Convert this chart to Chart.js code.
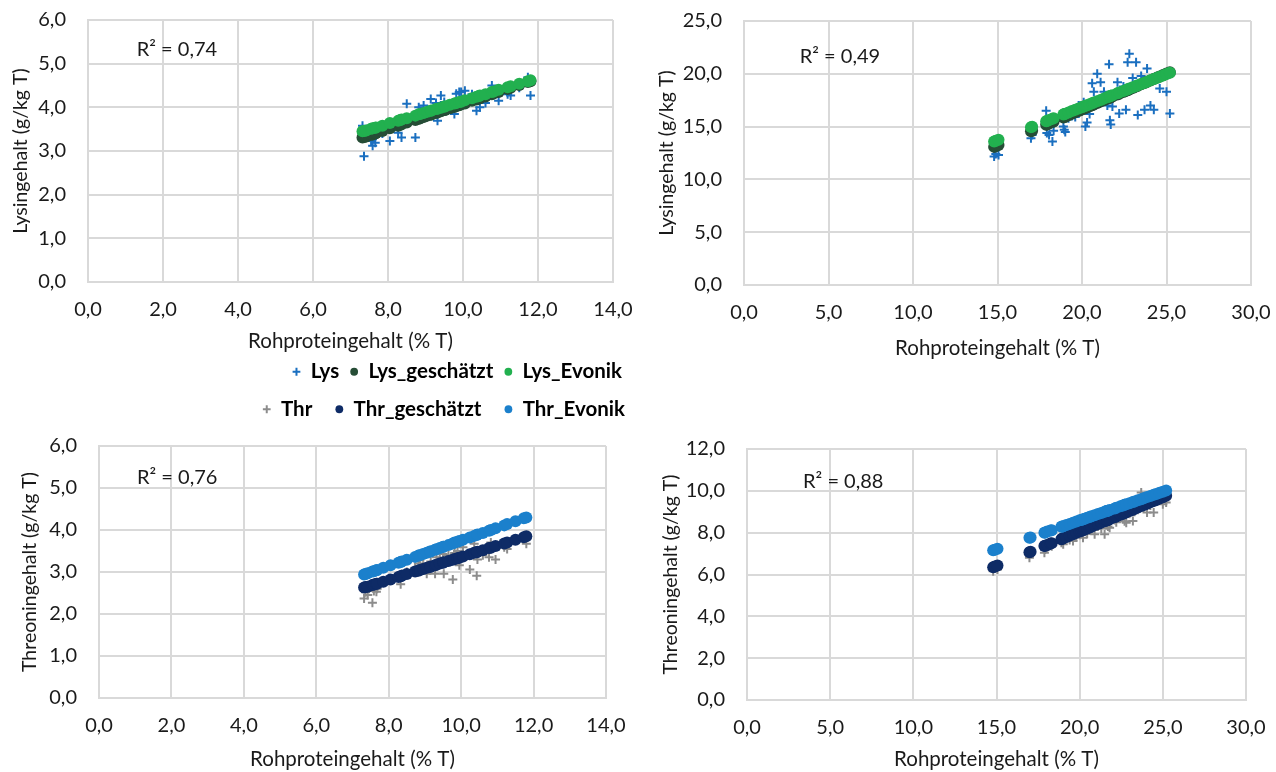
<!DOCTYPE html>
<html lang="de">
<head>
<meta charset="utf-8">
<title>Lysin- und Threoningehalt</title>
<script src="https://cdn.jsdelivr.net/npm/chart.js@4.4.1/dist/chart.umd.min.js"></script>
<style>
  body { margin: 0; background: #fff; width: 1276px; height: 772px; overflow: hidden; position: relative; }
  canvas { position: absolute; }
</style>
</head>
<body>
<canvas id="lysLowChart" width="633" height="392" style="left:0;top:0"></canvas>
<canvas id="lysHighChart" width="640" height="392" style="left:636px;top:0"></canvas>
<canvas id="thrLowChart" width="648" height="396" style="left:0;top:376px"></canvas>
<canvas id="thrHighChart" width="640" height="392" style="left:636px;top:380px"></canvas>
<script>
// Rohproteingehalt (% T), erster Probensatz
const rpLow = [7.32, 7.36, 7.42, 7.55, 7.59, 7.66, 7.68, 7.85, 8.05, 8.27, 8.33, 8.36, 8.50, 8.73, 8.82, 8.86, 8.95, 9.05, 9.14, 9.16, 9.28, 9.32, 9.41, 9.50, 9.52, 9.65, 9.77, 9.82, 9.90, 9.95, 10.05, 10.24, 10.36, 10.43, 10.45, 10.60, 10.77, 10.82, 10.95, 11.19, 11.27, 11.50, 11.73, 11.80];
const lysLow = [3.58, 2.88, 3.45, 3.23, 3.12, 3.19, 3.35, 3.40, 3.23, 3.42, 3.60, 3.31, 4.08, 3.31, 4.00, 3.80, 4.04, 3.85, 4.19, 3.81, 4.10, 3.69, 4.27, 4.12, 3.95, 4.05, 3.85, 4.31, 4.35, 4.35, 4.38, 4.30, 3.92, 4.25, 4.00, 4.10, 4.50, 4.35, 4.15, 4.30, 4.27, 4.45, 4.69, 4.27];
const lysLowEst = [3.31, 3.32, 3.33, 3.37, 3.38, 3.40, 3.41, 3.46, 3.52, 3.58, 3.60, 3.61, 3.65, 3.71, 3.74, 3.75, 3.78, 3.81, 3.83, 3.84, 3.87, 3.88, 3.91, 3.94, 3.94, 3.98, 4.01, 4.03, 4.05, 4.07, 4.09, 4.15, 4.18, 4.20, 4.21, 4.25, 4.30, 4.32, 4.35, 4.42, 4.45, 4.51, 4.58, 4.60];
const lysLowEvo = [3.45, 3.46, 3.47, 3.51, 3.52, 3.53, 3.54, 3.58, 3.64, 3.69, 3.71, 3.72, 3.75, 3.81, 3.84, 3.85, 3.87, 3.90, 3.92, 3.93, 3.96, 3.97, 3.99, 4.02, 4.02, 4.06, 4.09, 4.10, 4.12, 4.13, 4.16, 4.21, 4.24, 4.26, 4.27, 4.30, 4.35, 4.36, 4.40, 4.46, 4.48, 4.54, 4.60, 4.62];
const thrLow = [2.37, 2.52, 2.45, 2.27, 2.55, 2.53, 2.60, 2.75, 2.80, 2.90, 2.71, 2.95, 3.00, 3.10, 3.20, 3.28, 3.15, 2.96, 3.05, 3.25, 2.96, 3.35, 3.30, 3.43, 2.96, 3.40, 2.82, 3.45, 3.50, 3.16, 3.59, 3.06, 3.67, 2.91, 3.30, 3.40, 3.35, 3.70, 3.30, 3.59, 3.55, 3.80, 3.85, 3.67];
const thrLowEst = [2.63, 2.64, 2.65, 2.69, 2.70, 2.72, 2.72, 2.77, 2.82, 2.88, 2.90, 2.91, 2.95, 3.01, 3.03, 3.05, 3.07, 3.10, 3.12, 3.13, 3.16, 3.17, 3.20, 3.22, 3.23, 3.26, 3.29, 3.31, 3.33, 3.34, 3.37, 3.42, 3.46, 3.47, 3.48, 3.52, 3.57, 3.58, 3.62, 3.68, 3.70, 3.77, 3.83, 3.85];
const thrLowEvo = [2.94, 2.95, 2.97, 3.01, 3.02, 3.04, 3.05, 3.10, 3.16, 3.22, 3.24, 3.25, 3.29, 3.36, 3.39, 3.40, 3.43, 3.46, 3.49, 3.49, 3.53, 3.54, 3.57, 3.60, 3.60, 3.64, 3.68, 3.70, 3.72, 3.74, 3.77, 3.82, 3.86, 3.88, 3.89, 3.93, 3.98, 4.00, 4.04, 4.11, 4.14, 4.21, 4.28, 4.30];

// Rohproteingehalt (% T), zweiter Probensatz
const rpHigh = [14.80, 14.90, 15.06, 16.98, 17.05, 17.88, 17.92, 18.05, 18.25, 18.32, 18.90, 18.95, 19.01, 19.20, 19.40, 19.60, 19.80, 20.00, 20.10, 20.20, 20.30, 20.45, 20.60, 20.70, 20.90, 21.10, 21.30, 21.50, 21.60, 21.65, 21.70, 21.80, 22.10, 22.20, 22.45, 22.60, 22.70, 22.80, 23.00, 23.20, 23.30, 23.50, 23.70, 23.85, 24.05, 24.25, 24.45, 24.60, 24.80, 25.00, 25.20];
const lysHigh = [12.16, 12.40, 12.30, 13.90, 14.20, 16.50, 14.40, 14.20, 13.60, 14.60, 15.00, 14.70, 14.50, 15.80, 16.00, 15.90, 17.00, 16.50, 17.30, 15.00, 15.40, 16.20, 19.10, 18.30, 20.00, 19.20, 18.30, 17.00, 20.90, 15.60, 15.20, 16.90, 19.20, 16.25, 18.80, 16.60, 21.10, 21.90, 19.60, 21.10, 16.10, 19.80, 16.60, 20.50, 17.00, 16.60, 19.50, 18.60, 19.80, 18.30, 16.25];
const lysHighEst = [13.08, 13.15, 13.26, 14.56, 14.61, 15.18, 15.20, 15.29, 15.43, 15.48, 15.87, 15.90, 15.94, 16.07, 16.21, 16.35, 16.48, 16.62, 16.69, 16.75, 16.82, 16.92, 17.03, 17.09, 17.23, 17.37, 17.50, 17.64, 17.71, 17.74, 17.77, 17.84, 18.05, 18.11, 18.28, 18.39, 18.45, 18.52, 18.66, 18.79, 18.86, 19.00, 19.13, 19.24, 19.37, 19.51, 19.64, 19.75, 19.88, 20.02, 20.15];
const lysHighEvo = [13.59, 13.65, 13.75, 14.95, 14.98, 15.50, 15.54, 15.62, 15.75, 15.79, 16.15, 16.19, 16.22, 16.34, 16.47, 16.59, 16.72, 16.84, 16.91, 16.97, 17.03, 17.12, 17.22, 17.28, 17.41, 17.53, 17.66, 17.78, 17.84, 17.88, 17.91, 17.97, 18.16, 18.22, 18.38, 18.47, 18.53, 18.60, 18.72, 18.85, 18.91, 19.03, 19.16, 19.25, 19.38, 19.50, 19.63, 19.72, 19.85, 19.97, 20.10];
const thrHigh = [6.16, 6.30, 6.24, 6.80, 7.00, 7.04, 7.20, 7.30, 7.40, 7.35, 7.52, 7.60, 7.45, 7.70, 7.65, 7.60, 7.80, 7.90, 8.00, 7.76, 8.05, 7.95, 8.10, 8.15, 7.92, 8.30, 8.20, 7.92, 8.35, 8.50, 8.30, 8.24, 8.60, 8.50, 8.70, 8.80, 8.55, 8.48, 8.90, 8.56, 9.00, 9.10, 9.92, 9.20, 8.96, 9.30, 8.96, 9.50, 9.60, 9.36, 9.44];
const thrHighEst = [6.35, 6.38, 6.43, 7.06, 7.09, 7.36, 7.37, 7.41, 7.48, 7.50, 7.69, 7.71, 7.73, 7.79, 7.86, 7.92, 7.99, 8.05, 8.09, 8.12, 8.15, 8.20, 8.25, 8.28, 8.35, 8.41, 8.48, 8.55, 8.58, 8.59, 8.61, 8.64, 8.74, 8.77, 8.86, 8.91, 8.94, 8.97, 9.04, 9.10, 9.14, 9.20, 9.27, 9.32, 9.38, 9.45, 9.51, 9.56, 9.63, 9.69, 9.76];
const thrHighEvo = [7.16, 7.18, 7.23, 7.76, 7.77, 8.00, 8.01, 8.05, 8.10, 8.12, 8.28, 8.30, 8.31, 8.37, 8.42, 8.48, 8.53, 8.59, 8.61, 8.64, 8.67, 8.71, 8.75, 8.78, 8.83, 8.89, 8.94, 9.00, 9.03, 9.04, 9.05, 9.08, 9.16, 9.19, 9.26, 9.30, 9.33, 9.36, 9.41, 9.47, 9.49, 9.55, 9.60, 9.64, 9.70, 9.75, 9.81, 9.85, 9.91, 9.96, 10.02];

const lysNames = ['Lys', 'Lys_geschätzt', 'Lys_Evonik'];
const thrNames = ['Thr', 'Thr_geschätzt', 'Thr_Evonik'];
const r2Labels = ['R² = 0,74', 'R² = 0,49', 'R² = 0,76', 'R² = 0,88'];

const lysColours = ['#1a6fc0', '#264d36', '#22b04f'];
const thrColours = ['#8c8c8c', '#0e2b66', '#1b80cc'];
const gridColour = '#d9d9d9';
const textColour = '#1a1a1a';

Chart.defaults.font.family = 'Lato';
Chart.defaults.animation = false;

const fmt = v => v.toFixed(1).replace('.', ',');
const points = (xs, ys) => xs.map((x, i) => ({x: x, y: ys[i]}));

// R² Beschriftung im Diagramm
const r2Plugin = {
    id: 'r2',
    afterDatasetsDraw(chart, args, opts) {
        const {ctx, scales} = chart;
        ctx.save();
        ctx.font = '20px Lato';
        ctx.fillStyle = textColour;
        ctx.textBaseline = 'middle';
        ctx.fillText(opts.text, scales.x.getPixelForValue(opts.x), scales.y.getPixelForValue(opts.y));
        ctx.restore();
    }
};

function makeChart(id, o) {
    const datasets = o.ys.map((ys, i) => ({
        label: o.names[i],
        data: points(o.xs, ys),
        pointStyle: i === 0 ? 'cross' : 'circle',
        radius: i === 0 ? 4.5 : 6,
        borderWidth: i === 0 ? 2 : 0,
        borderColor: o.colours[i],
        backgroundColor: o.colours[i],
        order: 3 - i,
    }));

    const legend = o.legend ? {
        display: true,
        position: o.legend.position,
        align: 'end',
        weight: 3000,
        labels: {
            usePointStyle: true,
            boxWidth: 8,
            boxHeight: 5.5,
            padding: o.legend.padding,
            color: '#000',
            font: {size: 20.5, weight: 'bold'},
            sort: (a, b) => a.datasetIndex - b.datasetIndex,
        }
    } : {display: false};

    return new Chart(document.getElementById(id), {
        type: 'scatter',
        data: {datasets: datasets},
        plugins: [r2Plugin],
        options: {
            responsive: false,
            layout: {padding: {top: o.top, left: 0, right: 0, bottom: 0}},
            plugins: {
                legend: legend,
                tooltip: {enabled: false},
                subtitle: o.spacer ? {display: true, text: '', font: {size: 10}, padding: {top: 0, bottom: o.spacer}} : {display: false},
                r2: o.r2,
            },
            scales: {
                x: {
                    type: 'linear', min: 0, max: o.xMax,
                    ticks: {stepSize: o.xStep, callback: v => fmt(v), color: textColour, font: {size: 20}, padding: 3},
                    grid: {color: gridColour, lineWidth: 2, tickLength: 13, tickColor: 'rgba(0,0,0,0)'},
                    border: {color: gridColour, width: 2},
                    title: {display: true, text: 'Rohproteingehalt (% T)', color: textColour, font: {size: 20.5}, padding: {top: 0, bottom: o.xTitlePad}},
                    afterFit: s => { s.height = o.xHeight; s.paddingLeft = 0; s.paddingRight = o.padRight; },
                },
                y: {
                    type: 'linear', min: 0, max: o.yMax,
                    ticks: {stepSize: o.yStep, callback: v => fmt(v), color: textColour, font: {size: 20}, padding: 3},
                    grid: {color: gridColour, lineWidth: 2, tickLength: 19, tickColor: 'rgba(0,0,0,0)'},
                    border: {color: gridColour, width: 2},
                    title: {display: true, text: o.yTitle, color: textColour, font: {size: 19.5}, padding: {top: o.yTitlePad, bottom: 0}},
                    afterFit: s => { s.width = o.yWidth; s.paddingTop = 0; s.paddingBottom = 0; },
                },
            },
        },
    });
}

makeChart('lysLowChart', {
    xs: rpLow, ys: [lysLow, lysLowEst, lysLowEvo], names: lysNames, colours: lysColours,
    xMax: 14, xStep: 2, yMax: 6, yStep: 1, yTitle: 'Lysingehalt (g/kg T)',
    top: 20, yWidth: 88, xHeight: 68.5, padRight: 20, yTitlePad: 9, xTitlePad: -3,
    legend: {position: 'bottom', padding: 11},
    r2: {text: r2Labels[0], x: 1.3, y: 5.33},
});

makeChart('lysHighChart', {
    xs: rpHigh, ys: [lysHigh, lysHighEst, lysHighEvo], names: lysNames, colours: lysColours,
    xMax: 30, xStep: 5, yMax: 25, yStep: 5, yTitle: 'Lysingehalt (g/kg T)',
    top: 21, yWidth: 108, xHeight: 107, padRight: 25, yTitlePad: 19, xTitlePad: 31,
    r2: {text: r2Labels[1], x: 3.3, y: 21.6},
});

makeChart('thrLowChart', {
    xs: rpLow, ys: [thrLow, thrLowEst, thrLowEvo], names: thrNames, colours: thrColours,
    xMax: 14, xStep: 2, yMax: 6, yStep: 1, yTitle: 'Threoningehalt (g/kg T)',
    top: 0, yWidth: 99, xHeight: 74, padRight: 42, yTitlePad: 18, xTitlePad: 0,
    legend: {position: 'top', padding: 23}, spacer: 4.5,
    r2: {text: r2Labels[2], x: 1.05, y: 5.26},
});

makeChart('thrHighChart', {
    xs: rpHigh, ys: [thrHigh, thrHighEst, thrHighEvo], names: thrNames, colours: thrColours,
    xMax: 30, xStep: 5, yMax: 12, yStep: 2, yTitle: 'Threoningehalt (g/kg T)',
    top: 69, yWidth: 111, xHeight: 72, padRight: 30, yTitlePad: 23, xTitlePad: 0,
    r2: {text: r2Labels[3], x: 3.37, y: 10.43},
});
</script>
</body>
</html>
